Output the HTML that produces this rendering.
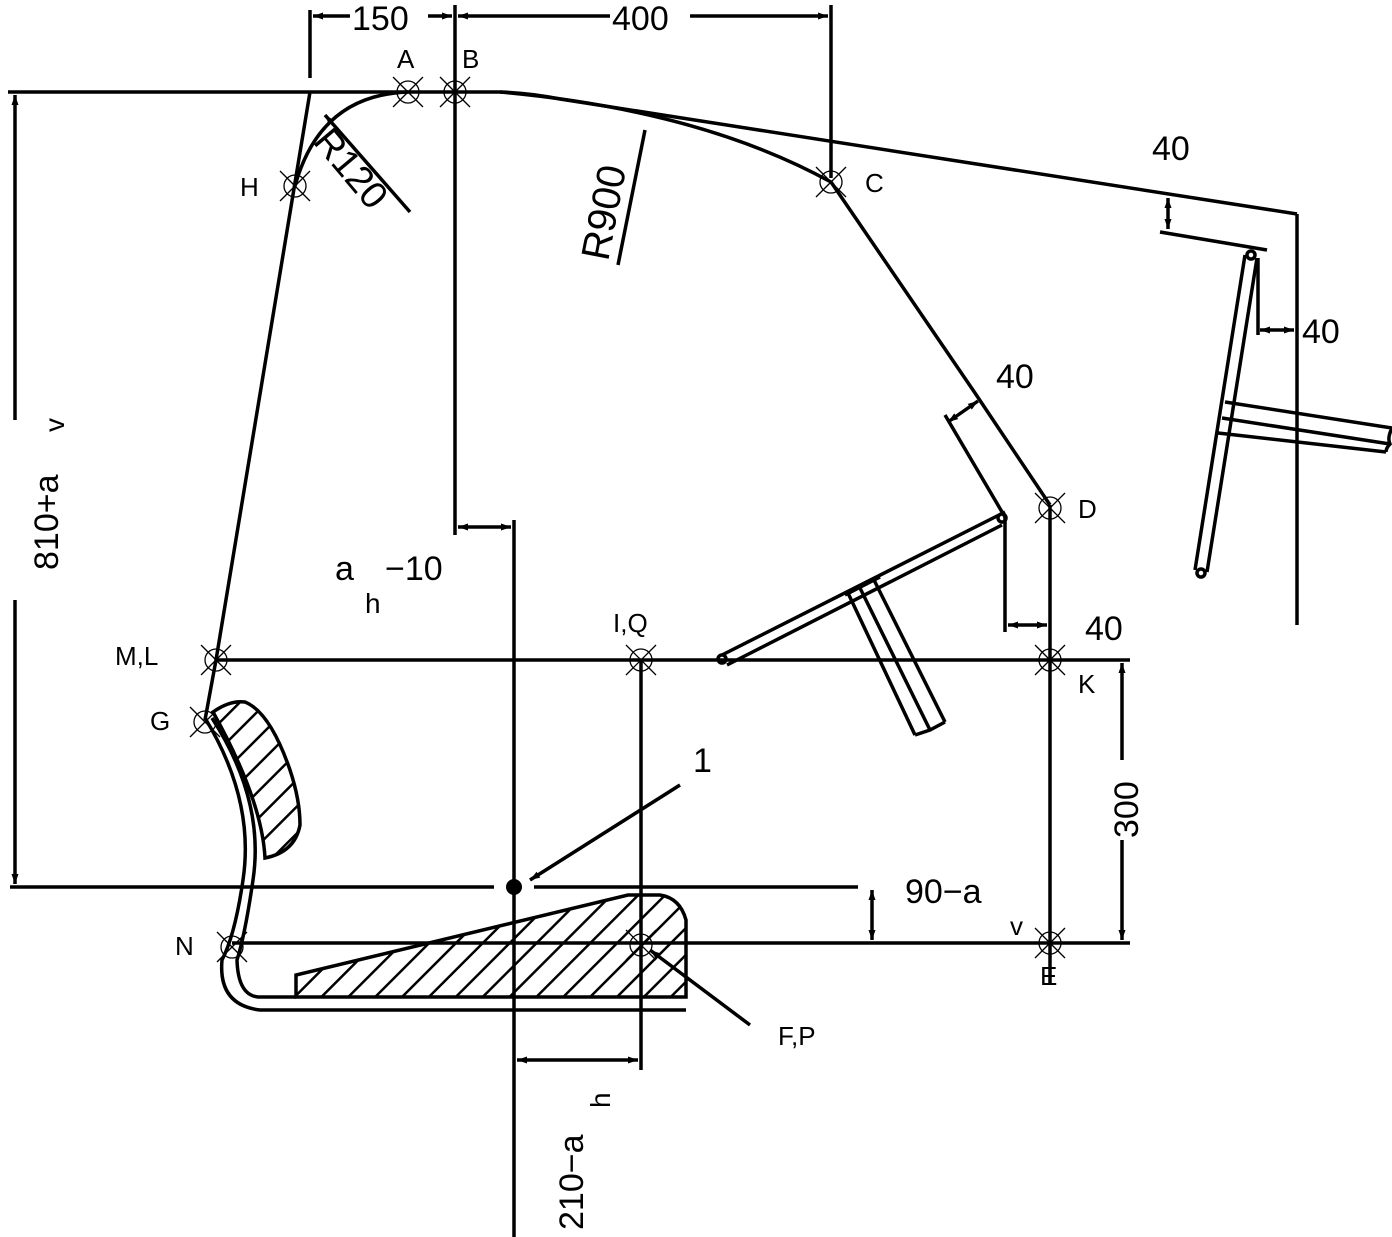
<!DOCTYPE html>
<html><head><style>body{margin:0;background:#fff}svg{display:block}text{font-family:"Liberation Sans",sans-serif;fill:#000}</style></head>
<body>
<svg width="1392" height="1237" viewBox="0 0 1392 1237" xmlns="http://www.w3.org/2000/svg">
<defs>
<pattern id="h" patternUnits="userSpaceOnUse" width="19" height="19" patternTransform="rotate(45)"><line x1="0" y1="0" x2="0" y2="19" stroke="#000" stroke-width="5"/></pattern>
<marker id="a" viewBox="0 0 10 10" refX="10" refY="5" markerWidth="14" markerHeight="10" orient="auto-start-reverse" markerUnits="userSpaceOnUse"><path d="M0,1.5 L10,5 L0,8.5z" fill="#000"/></marker>
<g id="m"><circle r="11" fill="none" stroke="#000" stroke-width="1.3"/><line x1="-15" y1="-15" x2="15" y2="15" stroke="#000" stroke-width="1.3"/><line x1="-15" y1="15" x2="15" y2="-15" stroke="#000" stroke-width="1.3"/></g>
</defs>
<g stroke="#000" stroke-width="3.5" fill="none">
<path d="M8,92 L500,92 Q530,93 560,99 L1297,214"/>
<path d="M500,92 Q700,110 831,182 L975,393 L1050,505"/>
<path d="M310,92 L216,660 L205,720"/>
<path d="M295,186 Q320,95 408,92"/>
<line x1="310" y1="10" x2="310" y2="78"/><line x1="455" y1="5" x2="455" y2="535"/><line x1="831" y1="5" x2="831" y2="178"/>
<line x1="313" y1="16" x2="350" y2="16" marker-start="url(#a)"/><line x1="428" y1="16" x2="452" y2="16" marker-end="url(#a)"/>
<line x1="458" y1="16" x2="610" y2="16" marker-start="url(#a)"/><line x1="690" y1="16" x2="828" y2="16" marker-end="url(#a)"/>
<line x1="410" y1="212" x2="325" y2="115" marker-end="url(#a)"/>
<line x1="618" y1="265" x2="645" y2="130"/>
<line x1="15" y1="95" x2="15" y2="420" marker-start="url(#a)"/><line x1="15" y1="600" x2="15" y2="884" marker-end="url(#a)"/>
<line x1="216" y1="660" x2="1130" y2="660"/>
<line x1="232" y1="943" x2="1130" y2="943"/>
<line x1="10" y1="887" x2="494" y2="887"/><line x1="534" y1="887" x2="858" y2="887"/>
<line x1="514" y1="520" x2="514" y2="1237"/>
<line x1="641" y1="660" x2="641" y2="1070"/>
<line x1="458" y1="527" x2="511" y2="527" marker-start="url(#a)" marker-end="url(#a)"/>
<line x1="517" y1="1060" x2="638" y2="1060" marker-start="url(#a)" marker-end="url(#a)"/>
<line x1="872" y1="890" x2="872" y2="940" marker-start="url(#a)" marker-end="url(#a)"/>
<line x1="1122" y1="663" x2="1122" y2="760" marker-start="url(#a)"/><line x1="1122" y1="840" x2="1122" y2="940" marker-end="url(#a)"/>
<line x1="680" y1="785" x2="530" y2="880" marker-end="url(#a)"/>
<line x1="750" y1="1025" x2="650" y2="950" marker-end="url(#a)"/>
<line x1="1050" y1="505" x2="1050" y2="985"/>
<path d="M945,415 L1005,517 L1005,632"/>
<line x1="1008" y1="625" x2="1047" y2="625" marker-start="url(#a)" marker-end="url(#a)"/>
<line x1="948" y1="422" x2="978" y2="401" marker-start="url(#a)" marker-end="url(#a)"/>
<path d="M722,655 L1005,512 M727,665 L1002,525"/>
<circle cx="722" cy="659" r="4"/><circle cx="1002" cy="518" r="4"/>
<path d="M848,593 L915,735 M860,588 L930,730 M873,578 L945,722 M915,735 L930,730 L945,722 M845,595 L880,577"/>
<line x1="1297" y1="214" x2="1297" y2="625"/>
<line x1="1160" y1="232" x2="1267" y2="250"/>
<line x1="1168" y1="198" x2="1168" y2="229" marker-start="url(#a)" marker-end="url(#a)"/>
<line x1="1260" y1="330" x2="1294" y2="330" marker-start="url(#a)" marker-end="url(#a)"/>
<path d="M1195,570 L1245,255 M1207,572 L1257,258"/>
<circle cx="1201" cy="573" r="4"/><circle cx="1251" cy="255" r="4"/>
<path d="M1225,402 L1392,428 M1222,418 L1390,444 M1218,433 L1386,452 M1392,428 Q1387,438 1390,444 Q1386,448 1386,452"/>
<line x1="1258" y1="258" x2="1258" y2="335"/>
<path d="M205,718 Q255,800 243,880 Q235,935 222,960 Q218,1005 260,1010 L686,1010"/>
<path d="M212,718 Q265,800 253,880 Q245,935 237,960 Q238,995 258,997 L296,997"/>
</g>
<path d="M213,712 Q230,700 245,702 Q270,712 290,770 Q300,800 300,825 Q295,852 265,858 Q262,800 213,712z" fill="url(#h)" stroke="#000" stroke-width="3.5"/>
<path d="M296,975 L296,997 L686,997 L686,920 Q680,898 660,895 L628,895 Z" fill="url(#h)" stroke="#000" stroke-width="3.5"/>
<circle cx="514" cy="887" r="8" fill="#000"/>
<g>
<use href="#m" x="408" y="92"/><use href="#m" x="455" y="92"/><use href="#m" x="831" y="182"/><use href="#m" x="295" y="186"/>
<use href="#m" x="1050" y="508"/><use href="#m" x="1050" y="660"/><use href="#m" x="1050" y="943"/>
<use href="#m" x="216" y="660"/><use href="#m" x="205" y="722"/><use href="#m" x="232" y="947"/>
<use href="#m" x="641" y="660"/><use href="#m" x="641" y="945"/>
</g>
<g font-size="34">
<text x="352" y="30">150</text><text x="612" y="30">400</text>
<text x="1152" y="160">40</text><text x="1302" y="343">40</text>
<text x="996" y="388">40</text><text x="1085" y="640">40</text>
<text x="693" y="772">1</text>
<text transform="translate(58,570) rotate(-90)">810+a</text>
<text transform="translate(64,432) rotate(-90)" font-size="28">v</text>
<text transform="translate(1138,838) rotate(-90)">300</text>
<text transform="translate(583,1230) rotate(-90)">210−a</text>
<text transform="translate(610,1108) rotate(-90)" font-size="28">h</text>
<text x="905" y="903">90−a</text><text x="1010" y="935" font-size="26">v</text>
<text x="335" y="580">a</text><text x="365" y="613" font-size="28">h</text><text x="385" y="580">−10</text>
<text transform="translate(312,142) rotate(50)" font-size="38">R120</text>
<text transform="translate(608,262) rotate(-79)" font-size="40">R900</text>
</g>
<g font-size="26">
<text x="397" y="68">A</text><text x="462" y="68">B</text><text x="865" y="192">C</text><text x="240" y="196">H</text>
<text x="1078" y="518">D</text><text x="1078" y="693">K</text><text x="1040" y="985">E</text>
<text x="115" y="665">M,L</text><text x="150" y="730">G</text><text x="175" y="955">N</text>
<text x="613" y="632">I,Q</text><text x="778" y="1045">F,P</text>
</g>
</svg>
</body></html>
